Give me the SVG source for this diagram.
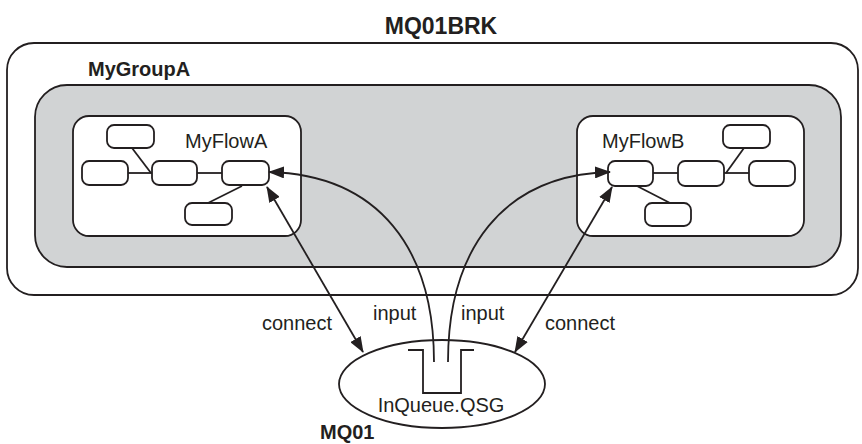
<svg xmlns="http://www.w3.org/2000/svg" width="862" height="444" viewBox="0 0 862 444">
<style>
.box{fill:#fff;stroke:#231f20;stroke-width:1.8}
.grp{fill:#d1d3d4;stroke:#231f20;stroke-width:1.8}
.nd{fill:#fff;stroke:#231f20;stroke-width:1.8}
.ln{fill:none;stroke:#231f20;stroke-width:1.8}
.t{font-family:"Liberation Sans",Arial,Helvetica,sans-serif;font-size:20px;fill:#231f20}
.b{font-family:"Liberation Sans",Arial,Helvetica,sans-serif;font-weight:bold;fill:#231f20}
</style>
<defs>
<marker id="ah" viewBox="0 0 16 12" refX="15" refY="6" markerWidth="16" markerHeight="12" markerUnits="userSpaceOnUse" orient="auto-start-reverse">
<path d="M0,0 L16,6 L0,12 z" fill="#231f20"/>
</marker>
</defs>
<g id="MQ01BRK">
<rect class="box" x="7" y="43" width="851" height="252" rx="27" ry="27"/>
<text class="b" x="441" y="34" font-size="23" text-anchor="middle">MQ01BRK</text>
</g>
<g id="MyGroupA">
<rect class="grp" x="35" y="85" width="806" height="182" rx="32" ry="32"/>
<text class="b" x="88" y="76" font-size="20">MyGroupA</text>
</g>
<g id="MyFlowA">
<rect class="box" x="73" y="116" width="228" height="120" rx="16" ry="16"/>
<text class="t" x="185" y="148">MyFlowA</text>
<line class="ln" x1="128" y1="173" x2="152" y2="173"/>
<line class="ln" x1="197" y1="173" x2="222" y2="173"/>
<line class="ln" x1="132" y1="148" x2="151" y2="173"/>
<line class="ln" x1="242" y1="186" x2="208" y2="203"/>
<rect class="nd" x="107" y="125" width="47" height="23" rx="7"/>
<rect class="nd" x="82" y="161" width="46" height="24" rx="7"/>
<rect class="nd" x="152" y="161" width="45" height="24" rx="7"/>
<rect class="nd" x="222" y="161" width="47" height="24" rx="7"/>
<rect class="nd" x="185" y="203" width="47" height="22" rx="7"/>
</g>
<g id="MyFlowB">
<rect class="box" x="577" y="116" width="227" height="120" rx="16" ry="16"/>
<text class="t" x="602" y="148">MyFlowB</text>
<line class="ln" x1="653" y1="173" x2="678" y2="173"/>
<line class="ln" x1="724" y1="173" x2="749" y2="173"/>
<line class="ln" x1="744" y1="148" x2="726" y2="173"/>
<line class="ln" x1="637" y1="186" x2="670" y2="203"/>
<rect class="nd" x="608" y="161" width="45" height="25" rx="7"/>
<rect class="nd" x="678" y="161" width="46" height="25" rx="7"/>
<rect class="nd" x="749" y="161" width="46" height="25" rx="7"/>
<rect class="nd" x="723" y="125" width="47" height="23" rx="7"/>
<rect class="nd" x="645" y="203" width="46" height="23" rx="7"/>
</g>
<g id="InQueue">
<ellipse class="box" cx="442" cy="384" rx="103" ry="44"/>
<polyline class="ln" points="408,350 423,350 423,393 461,393 461,350 474,350" stroke-width="2.2"/>
<text class="t" x="441" y="412" text-anchor="middle">InQueue.QSG</text>
<text class="b" x="320" y="439" font-size="20">MQ01</text>
</g>
<g id="connectors">
<path class="ln" d="M434,362 C434,250 380,175 269,172" marker-end="url(#ah)"/>
<path class="ln" d="M448,362 C448,250 502,175 610,172" marker-end="url(#ah)"/>
<line class="ln" x1="267" y1="187" x2="363" y2="352" marker-start="url(#ah)" marker-end="url(#ah)"/>
<line class="ln" x1="612" y1="187" x2="515" y2="352" marker-start="url(#ah)" marker-end="url(#ah)"/>
<text class="t" x="262" y="330">connect</text>
<text class="t" x="373" y="320">input</text>
<text class="t" x="461" y="320">input</text>
<text class="t" x="545" y="330">connect</text>
</g>
</svg>
